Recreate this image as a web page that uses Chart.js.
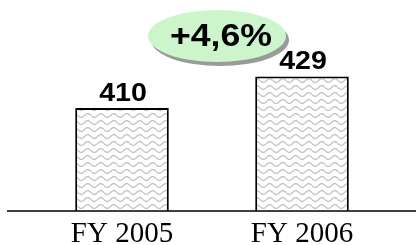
<!DOCTYPE html>
<html>
<head>
<meta charset="utf-8">
<script src="https://cdn.jsdelivr.net/npm/chart.js@4/dist/chart.umd.min.js"></script>
<style>
  html, body { margin: 0; padding: 0; background: #fff; }
  #wrap { width: 416px; height: 245px; }
</style>
</head>
<body>
<div id="wrap"><canvas id="revChart"></canvas></div>
<script>
// data
const years = ['FY 2005', 'FY 2006'];
const revenue = [410, 429];

// wavy fill like the office pattern
function wavePattern() {
    const c = document.createElement('canvas');
    c.width = 13; c.height = 7;
    const g = c.getContext('2d');
    g.fillStyle = '#fff';
    g.fillRect(0, 0, 13, 7);
    g.strokeStyle = '#c4c4c4';
    g.lineWidth = 1.4;
    g.beginPath();
    for (let x = 0; x <= 13; x += 0.5) {
        const y = 3.5 + 1.9 * Math.sin(x / 13 * Math.PI * 2);
        if (x === 0) g.moveTo(x, y); else g.lineTo(x, y);
    }
    g.stroke();
    return g.createPattern(c, 'repeat');
}

function stretchText(ctx, txt, x, y, sx) {
    ctx.save();
    ctx.translate(x, y);
    ctx.scale(sx, 1);
    ctx.fillText(txt, 0, 0);
    ctx.restore();
}

const extras = {
    id: 'extras',
    afterDatasetsDraw(chart) {
        const ctx = chart.ctx;
        const meta = chart.getDatasetMeta(0);
        const area = chart.chartArea;

        // baseline across the page
        ctx.save();
        ctx.strokeStyle = '#000';
        ctx.lineWidth = 1.5;
        ctx.beginPath();
        ctx.moveTo(7, area.bottom);
        ctx.lineTo(chart.width, area.bottom);
        ctx.stroke();

        // value labels
        ctx.fillStyle = '#000';
        ctx.font = 'bold 26px "Liberation Sans", Arial, sans-serif';
        ctx.textAlign = 'center';
        ctx.textBaseline = 'alphabetic';
        meta.data.forEach((bar, i) => {
            stretchText(ctx, String(revenue[i]), bar.x + 1, bar.y - 7, 1.1);
        });

        // growth bubble
        const growth = (revenue[1] - revenue[0]) / revenue[0] * 100;
        const txt = '+' + growth.toFixed(1).replace('.', ',') + '%';
        const cx = (meta.data[0].x + meta.data[1].x) / 2 + 5;
        const cy = area.top + 36;
        ctx.fillStyle = '#9a9a9a';
        ctx.beginPath();
        ctx.ellipse(cx + 3, cy + 4, 69, 26, 0, 0, Math.PI * 2);
        ctx.fill();
        ctx.fillStyle = '#ccf5cc';
        ctx.beginPath();
        ctx.ellipse(cx, cy, 69, 26, 0, 0, Math.PI * 2);
        ctx.fill();
        ctx.fillStyle = '#000';
        ctx.font = 'bold 31px "Liberation Sans", Arial, sans-serif';
        ctx.textBaseline = 'middle';
        stretchText(ctx, txt, cx + 4, cy + 1, 1.15);
        ctx.restore();
    }
};

new Chart(document.getElementById('revChart'), {
    type: 'bar',
    data: {
        labels: years,
        datasets: [{
            data: revenue,
            backgroundColor: wavePattern(),
            borderColor: '#000',
            borderWidth: 2,
            borderSkipped: 'bottom',
            categoryPercentage: 1,
            barPercentage: 0.52
        }]
    },
    options: {
        responsive: true,
        maintainAspectRatio: false,
        animation: false,
        layout: { padding: { left: 32, right: 24, top: 0, bottom: 0 } },
        plugins: {
            legend: { display: false },
            tooltip: { enabled: false }
        },
        scales: {
            x: {
                grid: { display: false, drawTicks: false },
                border: { display: false },
                ticks: {
                    color: '#000',
                    padding: 6,
                    font: { family: '"Liberation Serif", "Times New Roman", serif', size: 29 }
                },
                afterFit(scale) { scale.height = 34; }
            },
            y: {
                display: false,
                min: 348,
                max: 475
            }
        }
    },
    plugins: [extras]
});
</script>
</body>
</html>
